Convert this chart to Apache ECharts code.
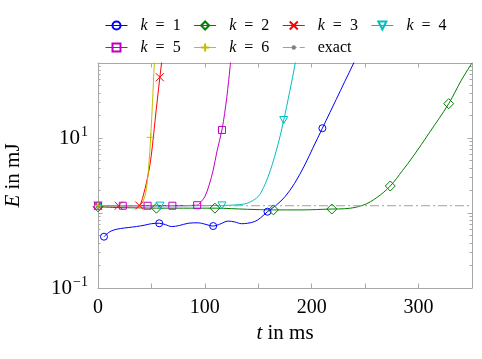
<!DOCTYPE html>
<html>
<head>
<meta charset="utf-8">
<script src="https://cdn.jsdelivr.net/npm/echarts@6/dist/echarts.min.js"></script>
<style>
  html, body { margin: 0; padding: 0; background: #fff; }
  #chart { width: 482px; height: 359px; }
</style>
</head>
<body>
<div id="chart"></div>
<script>
// curves, [t in ms, E in mJ]
const k1Curve = [[5.6,0.483],[10,0.55],[14.3,0.59],[21,0.62],[28.3,0.64],[36,0.66],[43.9,0.69],[50,0.72],[57.3,0.73],[63,0.7],[68.9,0.66],[76,0.68],[84.4,0.73],[93.7,0.74],[100,0.71],[107.8,0.67],[114,0.71],[121.8,0.78],[128,0.76],[134.3,0.72],[140,0.73],[146.7,0.77],[152,0.86],[158.6,1.04],[167,1.28],[175,1.65],[184,2.49],[193.5,4.37],[201,7.31],[210,13.5],[217,21.8],[223,32.8],[231,56.9],[239.3,100],[242,125]];
const k1Marks = [5.6, 57.3, 107.8, 158.6, 210];

const k2Curve = [[0,1.21],[20,1.18],[40,1.17],[54.7,1.16],[80,1.16],[109.4,1.16],[140,1.12],[164.1,1.1],[190,1.1],[218.8,1.13],[231,1.14],[248,1.27],[261,1.61],[273.5,2.29],[285,3.69],[295,5.71],[310,11.7],[328.2,28.7],[340,58.8],[350,100]];
const k2Marks = [0, 54.7, 109.4, 164.1, 218.8, 273.5, 328.2];

const k3Curve = [[0,1.25],[19.3,1.25],[38.6,1.26],[40.5,1.4],[42.5,1.74],[45.5,2.6],[48.6,4.37],[51,8],[53.3,16.5],[55.6,33],[57.9,64.6],[59.5,100],[60.3,125]];
const k3Marks = [0, 19.3, 38.6, 57.9];

const k4Curve = [[0,1.25],[58,1.25],[116,1.26],[128,1.28],[137.4,1.32],[143,1.42],[149.8,1.65],[155,2.2],[159.2,3.05],[163,4.4],[167,6.9],[170.5,10.7],[173.8,17.3],[176.6,26.5],[179.4,41.6],[182,63.5],[184.7,102],[186,125]];
const k4Marks = [0, 58, 116, 173.8];

const k5Curve = [[0,1.25],[23.2,1.25],[46.4,1.25],[69.6,1.25],[92.8,1.27],[96.5,1.42],[100,1.65],[104,2.36],[107.8,3.74],[111.5,6.81],[116,12.8],[118.5,21.3],[120.5,34.7],[122.2,56.9],[123.6,87.9],[124.4,117]];
const k5Marks = [0, 23.2, 46.4, 69.6, 92.8, 116];

const k6Curve = [[0,1.25],[24.6,1.25],[38,1.26],[41,1.35],[43.5,1.6],[45.5,2.2],[47.5,4.3],[49.3,10.2],[51,30],[52.7,99],[53.2,130]];
const k6Marks = [0, 49.3];

const exactCurve = [[0,1.25],[350,1.25]];

const xTicks = [0, 100, 200, 300];
const yLabelPowers = [-1, 1];
const yMinorTicks = [0.2,0.3,0.4,0.5,0.6,0.7,0.8,0.9,2,3,4,5,6,7,8,9,20,30,40,50,60,70,80,90];

const font = 'Liberation Serif';
const frame = '#a8a8a8';

function buildData(curve, marks) {
  return curve.map(function (p) {
    let item = { value: p };
    if (marks.indexOf(p[0]) < 0) item.symbol = 'none';
    return item;
  });
}

function lineSeries(name, curve, marks, color, symbol, size) {
  return {
    name: name,
    type: 'line',
    smooth: 0.35,
    data: buildData(curve, marks),
    symbol: symbol,
    symbolSize: size,
    symbolKeepAspect: true,
    showSymbol: true,
    lineStyle: { color: color, width: 1 },
    itemStyle: { color: 'rgba(255,255,255,0)', borderColor: color, borderWidth: 1 },
    emphasis: { disabled: true }
  };
}

let series = [
  lineSeries('k = 1', k1Curve, k1Marks, '#0000ff', 'circle', 7),
  lineSeries('k = 2', k2Curve, k2Marks, '#008000', 'diamond', 10),
  lineSeries('k = 3', k3Curve, k3Marks, '#ff0000', 'path://M0 0L10 10M10 0L0 10', 8),
  lineSeries('k = 4', k4Curve, k4Marks, '#00bfbf', 'path://M0 0L10 0L5 9Z', 8),
  lineSeries('k = 5', k5Curve, k5Marks, '#bf00bf', 'rect', 7),
  lineSeries('k = 6', k6Curve, k6Marks, '#bfbf00', 'path://M5 0L5 10M0 5L10 5', 8),
  {
    name: 'exact',
    type: 'line',
    data: exactCurve,
    // small dot inside a wider box so the legend dot stays small
    symbol: 'path://M0 0M10 10M2.2 5A2.8 2.8 0 1 1 7.8 5A2.8 2.8 0 1 1 2.2 5Z',
    symbolSize: 5,
    showSymbol: false,
    lineStyle: { color: '#a0a0a0', width: 1, type: [9, 3, 2, 3] },
    itemStyle: { color: '#808080' },
    emphasis: { disabled: true }
  }
];

const richText = {
  i: { fontFamily: font, fontStyle: 'italic', fontSize: 16, color: '#000' },
  n: { fontFamily: font, fontSize: 16, color: '#000' }
};

function legendFormat(name) {
  if (name === 'exact') return '{n|exact}';
  return '{i|k}{n|\u2002=\u2002' + name.slice(4) + '}';
}

function legendBox(names, top) {
  return {
    data: names,
    left: 105,
    top: top,
    padding: 0,
    itemWidth: 22,
    itemHeight: 10,
    itemGap: 13,
    selectedMode: false,
    formatter: legendFormat,
    lineStyle: { width: 1 },
    textStyle: { width: 45, padding: [0, 0, 0, 8], rich: richText }
  };
}

const supRich = {
  b: { fontFamily: font, fontSize: 21, color: '#000' },
  s: { fontFamily: font, fontSize: 14, color: '#000', padding: [0, 0, 12, 1] }
};

function logAxis(position, minor, labels) {
  return {
    type: 'log',
    logBase: 10,
    min: 0.1,
    max: 100,
    position: position,
    axisLine: { show: !minor, lineStyle: { color: frame, width: 1 } },
    axisTick: minor
      ? { show: true, inside: true, length: 2.5, customValues: yMinorTicks, lineStyle: { color: frame } }
      : { show: true, inside: true, length: 4.5, lineStyle: { color: frame } },
    minorTick: { show: false },
    splitLine: { show: false },
    axisLabel: labels ? {
      show: true,
      margin: 10,
      rich: supRich,
      formatter: function (v) {
        let p = Math.round(Math.log10(v));
        if (yLabelPowers.indexOf(p) < 0) return '';
        return '{b|10}{s|' + (p < 0 ? '\u2212' + (-p) : p) + '}';
      }
    } : { show: false }
  };
}

function timeAxis(position, labels) {
  return {
    type: 'value',
    min: 0,
    max: 350,
    interval: 50,
    position: position,
    axisLine: { show: true, lineStyle: { color: frame, width: 1 } },
    axisTick: { show: true, inside: true, length: 4.5, lineStyle: { color: frame } },
    splitLine: { show: false },
    axisLabel: labels ? {
      show: true,
      margin: 10,
      fontFamily: font,
      fontSize: 20,
      color: '#000',
      formatter: function (v) { return xTicks.indexOf(v) >= 0 ? String(v) : ''; }
    } : { show: false }
  };
}

const nameStyle = { rich: { i: { fontFamily: font, fontStyle: 'italic', fontSize: 21, color: '#000' } }, fontFamily: font, fontSize: 21, color: '#000' };

let xBottom = timeAxis('bottom', true);
xBottom.name = '{i|t} in ms';
xBottom.nameLocation = 'middle';
xBottom.nameGap = 30;
xBottom.nameTextStyle = nameStyle;

let yLeft = logAxis('left', false, true);
yLeft.name = '{i|E} in mJ';
yLeft.nameLocation = 'middle';
yLeft.nameGap = 74;
yLeft.nameTextStyle = nameStyle;

let option = {
  animation: false,
  backgroundColor: '#fff',
  grid: { left: 98, right: 10, top: 63, bottom: 71, containLabel: false, outerBoundsMode: 'none' },
  legend: [
    legendBox(['k = 1', 'k = 2', 'k = 3', 'k = 4'], 17.5),
    legendBox(['k = 5', 'k = 6', 'exact'], 39.5)
  ],
  xAxis: [xBottom, timeAxis('top', false)],
  yAxis: [yLeft, logAxis('left', true, false), logAxis('right', false, false), logAxis('right', true, false)],
  series: series
};

let myChart = echarts.init(document.getElementById('chart'), null, { renderer: 'canvas' });
myChart.setOption(option);
</script>
</body>
</html>
